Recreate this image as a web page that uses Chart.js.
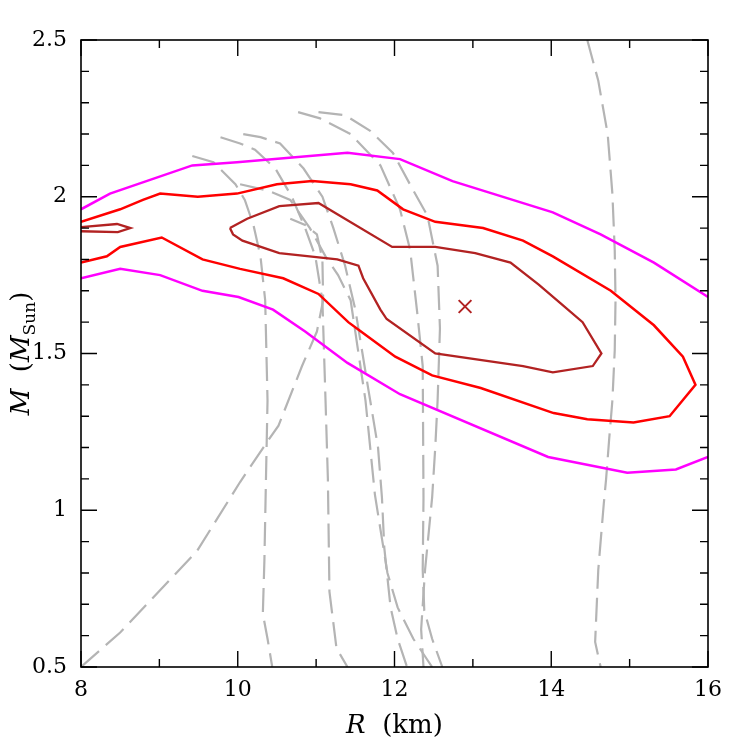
<!DOCTYPE html>
<html>
<head>
<meta charset="utf-8">
<script src="https://cdn.jsdelivr.net/npm/chart.js@4.4.1/dist/chart.umd.min.js"></script>
<style>
  body { margin: 0; background: #fff; }
  #wrap { width: 747px; height: 747px; }
</style>
</head>
<body>
<div id="wrap"><canvas id="mr-chart" width="747" height="747"></canvas></div>
<script>

var X_MIN = 8, X_MAX = 16, Y_MIN = 0.5, Y_MAX = 2.5;

// outer contour (magenta), two open branches
var outerTop_R = [8.00, 8.37, 9.42, 9.99, 11.40, 12.07, 12.74, 14.02, 14.63, 15.31, 16.00];
var outerTop_M = [1.96, 2.01, 2.10, 2.11, 2.14, 2.12, 2.05, 1.95, 1.88, 1.79, 1.68];
var outerBot_R = [8.00, 8.50, 9.01, 9.55, 10.01, 10.45, 10.86, 11.40, 12.07, 13.96, 14.97, 15.59, 16.00];
var outerBot_M = [1.74, 1.77, 1.75, 1.70, 1.68, 1.64, 1.57, 1.47, 1.37, 1.17, 1.12, 1.13, 1.17];

// middle contour (red)
var mid_R = [8.00, 8.50, 8.79, 9.01, 9.49, 9.99, 10.50, 10.95, 11.44, 11.78, 12.11, 12.52, 13.13, 13.64, 14.02, 14.76, 15.31, 15.68, 15.84,
             15.51, 15.05, 14.46, 14.03, 13.10, 12.48, 12.01, 11.52, 11.41, 11.03, 10.58, 10.03, 9.55, 9.03, 8.50, 8.33, 8.00];
var mid_M = [1.92, 1.96, 1.99, 2.01, 2.00, 2.01, 2.04, 2.05, 2.04, 2.02, 1.96, 1.92, 1.90, 1.86, 1.81, 1.70, 1.59, 1.49, 1.40,
             1.30, 1.28, 1.29, 1.31, 1.39, 1.43, 1.49, 1.58, 1.60, 1.69, 1.74, 1.77, 1.80, 1.87, 1.84, 1.81, 1.79];

// inner contour (dark red) + small island at the left edge
var inner_R = [9.90, 10.12, 10.53, 11.03, 11.97, 12.52, 13.03, 13.48, 13.84, 14.12, 14.40, 14.64, 14.53, 14.02, 13.64, 12.52,
               11.90, 11.82, 11.60, 11.54, 11.27, 10.53, 10.06, 9.94, 9.90];
var inner_M = [1.90, 1.93, 1.97, 1.98, 1.84, 1.84, 1.82, 1.79, 1.72, 1.66, 1.60, 1.50, 1.46, 1.44, 1.46, 1.50,
               1.61, 1.64, 1.74, 1.78, 1.80, 1.82, 1.86, 1.88, 1.90];
var island_R = [8.00, 8.46, 8.63, 8.47, 8.00];
var island_M = [1.903, 1.913, 1.900, 1.887, 1.890];

// best fit
var best_R = [12.90];
var best_M = [1.65];

// EOS mass-radius curves (grey dashed)
var eosA_R = [8.00, 8.50, 9.48, 10.03, 10.38, 10.52, 10.82, 11.01, 11.09, 11.08, 11.01, 10.86, 10.67];
var eosA_M = [0.50, 0.61, 0.87, 1.09, 1.22, 1.27, 1.46, 1.57, 1.67, 1.80, 1.88, 1.91, 1.93];
var eosB_R = [9.42, 9.69, 9.97, 10.09, 10.20, 10.29, 10.35, 10.38, 10.36, 10.34, 10.32, 10.38, 10.44];
var eosB_M = [2.13, 2.11, 2.04, 1.99, 1.91, 1.81, 1.67, 1.35, 1.10, 0.84, 0.67, 0.59, 0.50];
var eosC_R = [9.78, 10.03, 10.22, 10.48, 10.69, 10.86, 10.99, 11.08, 11.12, 11.15, 11.17, 11.26, 11.40];
var eosC_M = [2.19, 2.17, 2.15, 2.09, 2.00, 1.90, 1.81, 1.67, 1.35, 1.10, 0.74, 0.56, 0.50];
var eosD_R = [10.07, 10.29, 10.54, 10.84, 11.08, 11.22, 11.37, 11.50, 11.67, 11.79, 11.84, 11.87, 11.95, 12.04, 12.16];
var eosD_M = [2.20, 2.19, 2.17, 2.09, 2.00, 1.90, 1.78, 1.64, 1.38, 1.20, 1.04, 0.88, 0.69, 0.59, 0.50];
var eosE_R = [10.77, 11.05, 11.44, 11.82, 12.07, 12.20, 12.29, 12.36, 12.37, 12.36, 12.38, 12.48, 12.61];
var eosE_M = [2.27, 2.25, 2.20, 2.10, 1.96, 1.83, 1.63, 1.46, 1.04, 0.81, 0.68, 0.59, 0.50];
var eosF_R = [11.03, 11.37, 11.69, 11.98, 12.24, 12.42, 12.55, 12.58, 12.55, 12.52, 12.48, 12.39, 12.34, 12.37];
var eosF_M = [2.27, 2.26, 2.21, 2.14, 2.02, 1.94, 1.78, 1.58, 1.35, 1.20, 1.04, 0.81, 0.62, 0.50];
var eosG_R = [14.46, 14.60, 14.72, 14.78, 14.81, 14.82, 14.81, 14.78, 14.74, 14.70, 14.67, 14.60, 14.56, 14.63];
var eosG_M = [2.50, 2.37, 2.20, 2.01, 1.83, 1.67, 1.51, 1.35, 1.23, 1.10, 1.02, 0.81, 0.58, 0.50];
var eosH_R = [10.03, 10.38, 10.67, 10.92, 11.12, 11.28, 11.44, 11.63, 11.75, 11.82, 11.91, 12.04, 12.24, 12.48];
var eosH_M = [2.04, 2.02, 1.99, 1.90, 1.81, 1.75, 1.67, 1.35, 1.05, 0.94, 0.80, 0.69, 0.59, 0.50];

var COL_OUTER = "#ff00ff";
var COL_MID = "#ff0000";
var COL_INNER = "#b22222";
var COL_EOS = "#b4b4b4";
var FONT = "'DejaVu Serif', 'Liberation Serif', serif";

function pts(rs, ms) {
	var out = [];
	for (var i = 0; i < rs.length; i++) {
		out.push({x: rs[i], y: ms[i]});
	}
	return out;
}

function contour(rs, ms, color, width) {
	return { data: pts(rs, ms), borderColor: color, borderWidth: width, showLine: true,
		pointRadius: 0, fill: false, tension: 0, order: 1 };
}

function eos(rs, ms) {
	return { data: pts(rs, ms), borderColor: COL_EOS, borderWidth: 2.2, borderDash: [24, 9],
		showLine: true, pointRadius: 0, fill: false, tension: 0, order: 2 };
}

// box + inward ticks on all four sides, and the axis titles
var frameAndTitles = {
	id: 'frameAndTitles',
	afterDraw: function(chart) {
		var ctx = chart.ctx;
		var a = chart.chartArea;
		var xs = chart.scales.x, ys = chart.scales.y;
		ctx.save();
		ctx.strokeStyle = "#000";
		ctx.lineWidth = 1.6;
		ctx.strokeRect(a.left, a.top, a.right - a.left, a.bottom - a.top);
		ctx.lineWidth = 1.4;
		ctx.beginPath();
		for (var v = X_MIN; v <= X_MAX + 1e-6; v += 1) {
			var px = xs.getPixelForValue(v);
			var len = (Math.round(v) % 2 === 0) ? 16 : 8;
			ctx.moveTo(px, a.bottom); ctx.lineTo(px, a.bottom - len);
			ctx.moveTo(px, a.top); ctx.lineTo(px, a.top + len);
		}
		for (var i = 0; i <= 20; i++) {
			var py = ys.getPixelForValue(Y_MIN + i * 0.1);
			var ylen = (i % 5 === 0) ? 16 : 8;
			ctx.moveTo(a.left, py); ctx.lineTo(a.left + ylen, py);
			ctx.moveTo(a.right, py); ctx.lineTo(a.right - ylen, py);
		}
		ctx.stroke();

		// x title: R (km)
		ctx.fillStyle = "#000";
		ctx.textBaseline = "alphabetic";
		var cx = (a.left + a.right) / 2;
		ctx.font = "italic 26px " + FONT;
		var w1 = ctx.measureText("R").width;
		ctx.font = "26px " + FONT;
		var w2 = ctx.measureText("  (km)").width;
		var x0 = cx - (w1 + w2) / 2;
		ctx.font = "italic 26px " + FONT;
		ctx.fillText("R", x0, 733);
		ctx.font = "26px " + FONT;
		ctx.fillText("  (km)", x0 + w1, 733);

		// y title: M (M_Sun)
		var cy = (a.top + a.bottom) / 2;
		ctx.translate(29, cy);
		ctx.rotate(-Math.PI / 2);
		ctx.font = "italic 26px " + FONT;
		var m1 = ctx.measureText("M").width;
		ctx.font = "26px " + FONT;
		var m2 = ctx.measureText("  (").width;
		var m3 = m1;
		ctx.font = "17px " + FONT;
		var m4 = ctx.measureText("Sun").width;
		ctx.font = "26px " + FONT;
		var m5 = ctx.measureText(")").width;
		var t = -(m1 + m2 + m3 + m4 + m5) / 2;
		ctx.font = "italic 26px " + FONT;
		ctx.fillText("M", t, 0); t += m1;
		ctx.font = "26px " + FONT;
		ctx.fillText("  (", t, 0); t += m2;
		ctx.font = "italic 26px " + FONT;
		ctx.fillText("M", t, 0); t += m3;
		ctx.font = "17px " + FONT;
		ctx.fillText("Sun", t, 6); t += m4;
		ctx.font = "26px " + FONT;
		ctx.fillText(")", t, 0);
		ctx.restore();
	}
};

var datasets = [
	{ data: pts(best_R, best_M), pointStyle: 'crossRot', pointRadius: 9, borderColor: COL_INNER,
	  borderWidth: 2, showLine: false, order: 0 },
	contour(inner_R, inner_M, COL_INNER, 2.3),
	contour(island_R, island_M, COL_INNER, 2.3),
	contour(mid_R, mid_M, COL_MID, 2.5),
	contour(outerTop_R, outerTop_M, COL_OUTER, 2.5),
	contour(outerBot_R, outerBot_M, COL_OUTER, 2.5),
	eos(eosA_R, eosA_M),
	eos(eosB_R, eosB_M),
	eos(eosC_R, eosC_M),
	eos(eosD_R, eosD_M),
	eos(eosE_R, eosE_M),
	eos(eosF_R, eosF_M),
	eos(eosG_R, eosG_M),
	eos(eosH_R, eosH_M)
];

function plainNum(value) {
	return String(Math.round(value * 100) / 100);
}

var mrChart = new Chart(document.getElementById("mr-chart"), {
	type: 'scatter',
	data: { datasets: datasets },
	options: {
		responsive: false,
		animation: false,
		devicePixelRatio: 1,
		layout: { padding: { top: 40, right: 39, left: 0, bottom: 0 } },
		plugins: { legend: { display: false }, tooltip: { enabled: false } },
		scales: {
			x: {
				type: 'linear', min: X_MIN, max: X_MAX,
				grid: { display: false, drawTicks: false },
				border: { display: false },
				ticks: { stepSize: 2, padding: 10, color: "#000", font: { family: FONT, size: 22 }, maxRotation: 0,
					callback: plainNum },
				afterFit: function(scale) { scale.height = 80; }
			},
			y: {
				type: 'linear', min: Y_MIN, max: Y_MAX,
				grid: { display: false, drawTicks: false },
				border: { display: false },
				ticks: { stepSize: 0.5, padding: 14, color: "#000", font: { family: FONT, size: 22 },
					callback: plainNum },
				afterFit: function(scale) { scale.width = 81; }
			}
		}
	},
	plugins: [frameAndTitles]
});

</script>
</body>
</html>
